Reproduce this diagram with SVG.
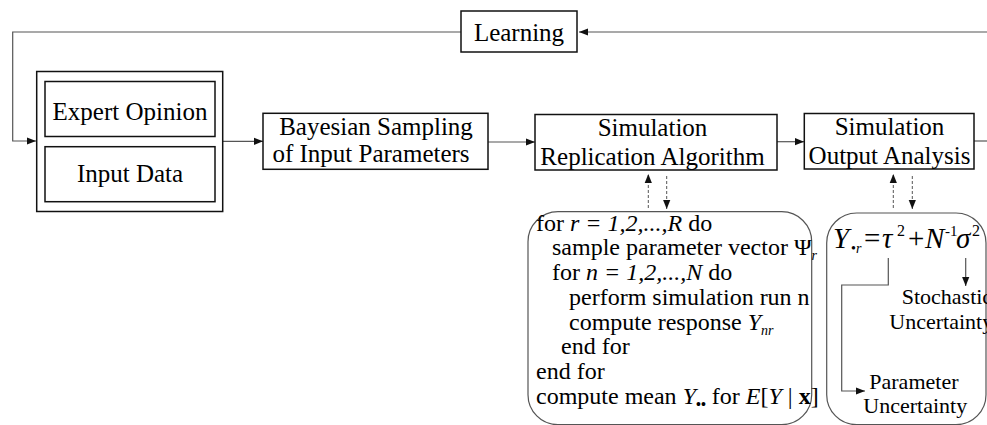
<svg xmlns="http://www.w3.org/2000/svg" width="987" height="425" viewBox="0 0 987 425">
<defs>
<marker id="ah" viewBox="0 0 10 10" refX="10" refY="5" markerWidth="9" markerHeight="9" markerUnits="userSpaceOnUse" orient="auto">
<path d="M0,1 L10,5 L0,9 Z" fill="#111"/>
</marker>
</defs>

<g id="connectors" fill="none" stroke="#555" stroke-width="1.2">
<path d="M987,32 H579" marker-end="url(#ah)"/>
<path d="M461,32 H12.7 V141 H36" marker-end="url(#ah)"/>
<path d="M223,141.3 H263" marker-end="url(#ah)"/>
<path d="M488,142 H535" marker-end="url(#ah)"/>
<path d="M777,141.7 H804" marker-end="url(#ah)"/>
<path d="M974,141 H987"/>
<path d="M648.3,208 V174" stroke-width="1" stroke-dasharray="3 2" marker-end="url(#ah)"/>
<path d="M666.7,176 V209" stroke-width="1" stroke-dasharray="3 2" marker-end="url(#ah)"/>
<path d="M893.3,208 V174" stroke-width="1" stroke-dasharray="3 2" marker-end="url(#ah)"/>
<path d="M912.3,176 V209" stroke-width="1" stroke-dasharray="3 2" marker-end="url(#ah)"/>
<path d="M888.3,258 V285 H841.7 V391 H865" marker-end="url(#ah)"/>
<path d="M965.7,258 V286" marker-end="url(#ah)"/>
</g>

<g id="learning">
<rect x="461" y="11" width="116" height="41" fill="#fff" stroke="#111" stroke-width="1.5"/>
<text font-family="Liberation Serif" font-size="25" x="519" y="40.5" text-anchor="middle">Learning</text>
</g>

<g id="inputs">
<rect x="36.7" y="71.5" width="186" height="140" fill="#fff" stroke="#111" stroke-width="1.5"/>
</g>
<g id="expert-opinion">
<rect x="45" y="81.5" width="170" height="55" fill="#fff" stroke="#111" stroke-width="1.5"/>
<text font-family="Liberation Serif" font-size="25" x="130" y="120" text-anchor="middle">Expert Opinion</text>
</g>
<g id="input-data">
<rect x="45" y="146.7" width="170" height="55" fill="#fff" stroke="#111" stroke-width="1.5"/>
<text font-family="Liberation Serif" font-size="25" x="130" y="181.7" text-anchor="middle">Input Data</text>
</g>

<g id="bayesian">
<rect x="263" y="113.3" width="225" height="56" fill="#fff" stroke="#111" stroke-width="1.5"/>
<text font-family="Liberation Serif" font-size="25" x="376" y="135" text-anchor="middle">Bayesian Sampling</text>
<text font-family="Liberation Serif" font-size="25" x="371" y="161.7" text-anchor="middle">of Input Parameters</text>
</g>

<g id="sim-replication">
<rect x="535" y="114.5" width="242" height="55.5" fill="#fff" stroke="#111" stroke-width="1.5"/>
<text font-family="Liberation Serif" font-size="25" x="652.5" y="136" text-anchor="middle">Simulation</text>
<text font-family="Liberation Serif" font-size="25" x="652.5" y="165" text-anchor="middle">Replication Algorithm</text>
</g>

<g id="sim-output">
<rect x="804.3" y="113.5" width="169.7" height="55.5" fill="#fff" stroke="#111" stroke-width="1.5"/>
<text font-family="Liberation Serif" font-size="25" x="889.5" y="135" text-anchor="middle">Simulation</text>
<text font-family="Liberation Serif" font-size="25" x="889.5" y="164" text-anchor="middle">Output Analysis</text>
</g>

<g id="algorithm">
<rect x="528" y="211.7" width="283.7" height="213" rx="30" ry="30" fill="none" stroke="#555" stroke-width="1.2"/>
<text font-family="Liberation Serif" font-size="24" x="536" y="230.7">for <tspan font-style="italic">r = 1,2,...,R</tspan> do</text>
<text font-family="Liberation Serif" font-size="24" x="552" y="255.4">sample parameter vector Ψ<tspan font-style="italic" font-size="14" dy="5">r</tspan></text>
<text font-family="Liberation Serif" font-size="24" x="552" y="280.1">for <tspan font-style="italic">n = 1,2,...,N</tspan> do</text>
<text font-family="Liberation Serif" font-size="24" x="569" y="304.8">perform simulation run n</text>
<text font-family="Liberation Serif" font-size="24" x="569" y="329.5">compute response <tspan font-style="italic">Y</tspan><tspan font-style="italic" font-size="14" dy="5">nr</tspan></text>
<text font-family="Liberation Serif" font-size="24" x="561" y="354.2">end for</text>
<text font-family="Liberation Serif" font-size="24" x="536" y="378.9">end for</text>
<text font-family="Liberation Serif" font-size="24" x="536" y="403.6">compute mean <tspan font-style="italic">Y</tspan><tspan font-size="14" font-weight="bold" dy="5">••</tspan><tspan dy="-5"> for </tspan><tspan font-style="italic">E</tspan>[<tspan font-style="italic">Y</tspan> | <tspan font-weight="bold">x</tspan>]</text>
</g>

<g id="output-analysis">
<rect x="826.7" y="213" width="159.3" height="211.7" rx="30" ry="30" fill="none" stroke="#555" stroke-width="1.2"/>
<text font-family="Liberation Serif" font-size="29" x="833" y="247.5" font-style="italic">Y</text>
<text font-family="Liberation Serif" font-size="14" x="851" y="253">•<tspan font-style="italic">r</tspan></text>
<text font-family="Liberation Serif" font-size="29" x="864" y="247.5">=</text>
<text font-family="Liberation Serif" font-size="29" x="882" y="247.5" font-style="italic">τ</text>
<text font-family="Liberation Serif" font-size="16" x="897" y="236">2</text>
<text font-family="Liberation Serif" font-size="29" x="908" y="247.5">+</text>
<text font-family="Liberation Serif" font-size="29" x="925" y="247.5" font-style="italic">N</text>
<text font-family="Liberation Serif" font-size="15" x="945" y="236">-1</text>
<text font-family="Liberation Serif" font-size="29" x="956" y="247.5" font-style="italic">σ</text>
<text font-family="Liberation Serif" font-size="16" x="972" y="236">2</text>
<text font-family="Liberation Serif" font-size="22" x="901.7" y="304">Stochastic</text>
<text font-family="Liberation Serif" font-size="22" x="889.3" y="328.5">Uncertainty</text>
<text font-family="Liberation Serif" font-size="22" x="869.3" y="389.3">Parameter</text>
<text font-family="Liberation Serif" font-size="22" x="863.3" y="413.3">Uncertainty</text>
</g>
</svg>
